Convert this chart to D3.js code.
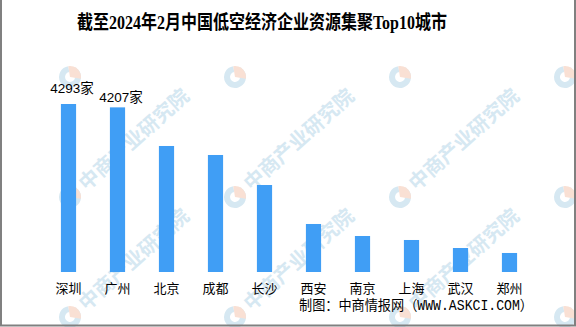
<!DOCTYPE html>
<html>
<head>
<meta charset="utf-8">
<script src="https://cdn.jsdelivr.net/npm/d3@7"></script>
<style>
html,body{margin:0;padding:0;background:#fff;}
svg{display:block;}
</style>
</head>
<body>
<svg id="chart" width="576" height="327"></svg>
<script>
const cities = ["深圳","广州","北京","成都","长沙","西安","南京","上海","武汉","郑州"];
const counts = [4293, 4207, 3220, 2990, 2223, 1227, 920, 818, 613, 486];
const valueLabels = ["4293家", "4207家"];
const titleText = "截至2024年2月中国低空经济企业资源集聚Top10城市";
const sourceText = "制图：中商情报网（WWW.ASKCI.COM）";
const watermarkText = "中商产业研究院";

const W = 576, H = 327;
const svg = d3.select("#chart");
svg.append("rect").attr("width", W).attr("height", H).attr("fill", "#fff");

// watermarks (logos on full grid, text only where it fits inside the picture)
const wm = svg.append("g").attr("class", "watermark");
const wmCols = [70, 235, 400, 565];
const wmRows = [77, 197, 317];
wmRows.forEach(ry => wmCols.forEach(cx => {
  const g = wm.append("g").attr("transform", `translate(${cx},${ry})`);
  const r = 11;
  const arc = d3.arc();
  g.append("path").attr("d", arc({innerRadius: 5, outerRadius: r, startAngle: Math.PI * 0.15, endAngle: Math.PI * 1.95}))
    .attr("fill", "#d6e8f2");
  g.append("path").attr("d", arc({innerRadius: 0, outerRadius: r, startAngle: -Math.PI * 0.05, endAngle: Math.PI * 0.55}))
    .attr("fill", "#f9e0d4");
  if (ry > 100 && cx < 500) {
    g.append("text").attr("x", 16).attr("y", 7)
      .attr("transform", "rotate(-42)")
      .attr("font-family", "Noto Sans CJK SC, sans-serif")
      .attr("font-weight", "bold")
      .attr("font-size", 20)
      .attr("fill", "#d6e8f2")
      .text(watermarkText);
  }
}));

// border
svg.append("path").attr("d", `M1,0 V${H-1.5} H${W-1} V0`).attr("fill", "none")
  .attr("stroke", "#808080").attr("stroke-width", 2);

// scales
const x = d3.scaleBand().domain(cities).range([44, 534]).paddingInner(0.69).paddingOuter(0.345);
const y = d3.scaleLinear().domain([0, 4293]).range([272, 104]);

// bars
svg.append("g").selectAll("rect").data(cities).join("rect")
  .attr("x", d => x(d))
  .attr("width", x.bandwidth())
  .attr("y", (d, i) => y(counts[i]))
  .attr("height", (d, i) => y(0) - y(counts[i]))
  .attr("fill", "#409ef5");

// x axis labels
const xAxis = d3.axisBottom(x).tickSize(0).tickPadding(0);
const ax = svg.append("g").attr("transform", `translate(0,${y(0)})`).call(xAxis);
ax.select(".domain").remove();
ax.selectAll("text")
  .attr("y", 21).attr("dy", 0)
  .attr("font-family", "Noto Sans CJK SC, sans-serif")
  .attr("font-size", 13)
  .attr("fill", "#000");

// value labels
const labelDy = [-11, -5];
svg.append("g").selectAll("text").data(valueLabels).join("text")
  .attr("x", (d, i) => x(cities[i]) + x.bandwidth() / 2 + 3.5)
  .attr("y", (d, i) => y(counts[i]) + labelDy[i])
  .attr("text-anchor", "middle")
  .attr("font-family", "Liberation Sans, Noto Sans CJK SC, sans-serif")
  .attr("font-size", 13.5)
  .attr("fill", "#000")
  .text(d => d);

// title
svg.append("text")
  .attr("x", 77).attr("y", 29)
  .attr("textLength", 370).attr("lengthAdjust", "spacingAndGlyphs")
  .attr("font-family", "Liberation Serif, Noto Sans CJK SC, serif")
  .attr("font-weight", "bold")
  .attr("font-size", 19)
  .attr("fill", "#000")
  .text(titleText);

// source
svg.append("text")
  .attr("x", 299).attr("y", 310)
  .attr("textLength", 234).attr("lengthAdjust", "spacingAndGlyphs")
  .attr("font-family", "Liberation Mono, Noto Sans CJK SC, monospace")
  .attr("font-size", 14)
  .attr("fill", "#000")
  .text(sourceText);
</script>
</body>
</html>
